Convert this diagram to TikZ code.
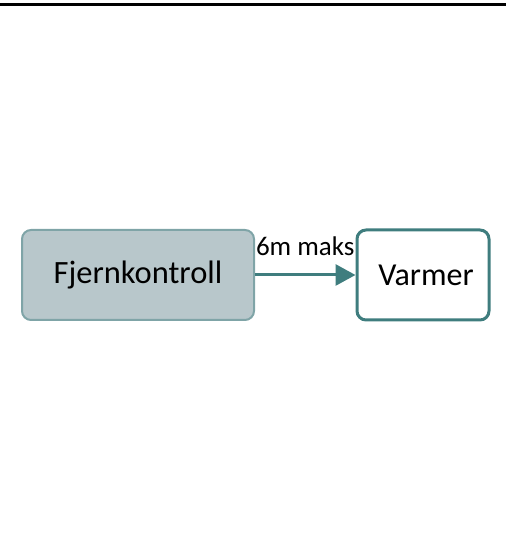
\documentclass[tikz,border=0pt]{standalone}
\usepackage{fontspec}
\setmainfont{Carlito}
\usetikzlibrary{arrows.meta,positioning}
\definecolor{boxfill}{HTML}{B8C7CB}
\definecolor{boxline}{HTML}{7FA4A7}
\definecolor{teal}{HTML}{3F7D7E}
\tikzset{>={Triangle[length=20pt,width=21pt]}}
\tikzset{
  unitbox/.style={draw, rounded corners=9pt, minimum height=90pt, inner sep=0pt},
}

\begin{document}
\begin{tikzpicture}[x=1pt,y=1pt]
            \useasboundingbox (0,0) rectangle (506,541);
            \draw[line width=2.5pt] (0,536.5) -- (506,536.5);

            \node[unitbox, fill=boxfill, draw=boxline, line width=2pt, minimum width=232pt,
                  font=\fontsize{32.5}{36}\selectfont] (remote) at (138,266) {Fjernkontroll};
            \node[unitbox, fill=white, draw=teal, line width=3pt, minimum width=132pt,
                  font=\fontsize{32}{36}\selectfont] (heater) at (423,266) {\hspace{6pt}Varmer};

            \draw[->, teal, line width=3pt] (remote.east) -- (heater.west)
                node[midway, above=16pt, black, inner sep=2pt,
                     font=\fontsize{27}{30}\selectfont] (limit) {6m maks};
        \end{tikzpicture}
\end{document}
